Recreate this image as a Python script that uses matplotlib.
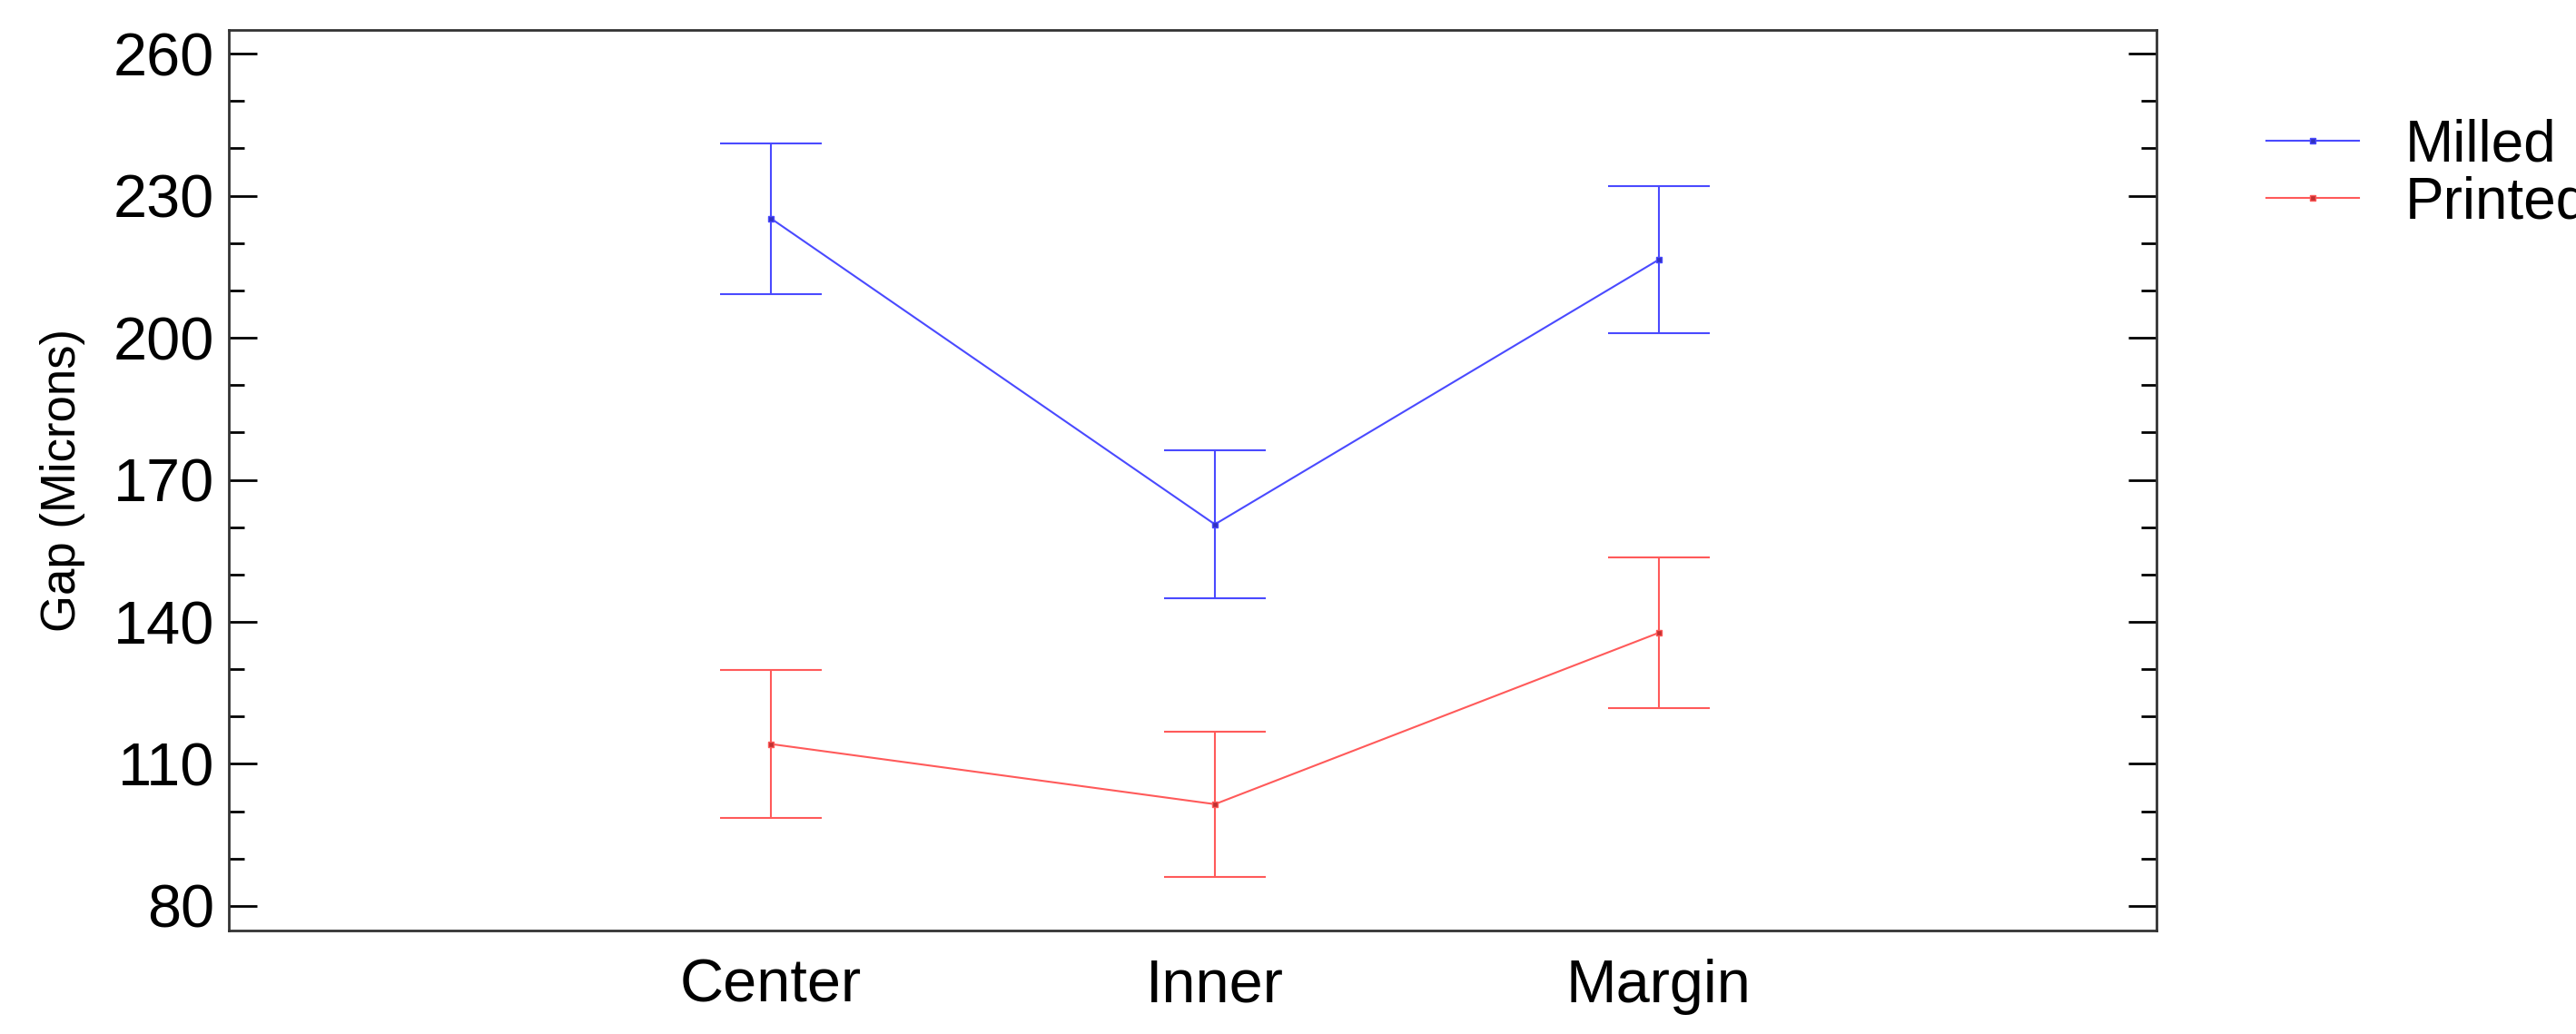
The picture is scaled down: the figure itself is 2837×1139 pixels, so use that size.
import matplotlib.pyplot as plt
from matplotlib.lines import Line2D

plt.rcParams['font.family'] = ['Liberation Sans', 'DejaVu Sans']

locations = ['Center', 'Inner', 'Margin']
milled = [225.2, 160.6, 216.5]
milled_err = [15.9, 15.6, 15.5]
printed = [114.2, 101.5, 137.7]
printed_err = [15.6, 15.4, 15.9]
yticks = [80, 110, 140, 170, 200, 230, 260]
yminor = [90, 100, 120, 130, 150, 160, 180, 190, 210, 220, 240, 250]

blue = '#4a4aff'
red = '#ff5a5a'

fig = plt.figure(figsize=(28.37, 11.39), dpi=100)
ax = fig.add_axes([0.089, 0.100, 0.748, 0.871])

x = range(len(locations))
ax.errorbar(x, milled, yerr=milled_err, color=blue, lw=1.5, elinewidth=1.5,
            capsize=40, capthick=1.5, marker='s', ms=4, mfc='#3030c0')
ax.errorbar(x, printed, yerr=printed_err, color=red, lw=1.5, elinewidth=1.5,
            capsize=40, capthick=1.5, marker='s', ms=4, mfc='#c03030')

ax.set_xlim(-1.22, 3.12)
ax.set_ylim(74.8, 265)
ax.set_xticks(list(x))
ax.set_xticklabels(locations)
ax.set_yticks(yticks)
ax.set_yticks(yminor, minor=True)
ax.tick_params(axis='y', which='major', direction='in', length=22, width=2,
               right=True, labelsize=48, pad=12)
ax.tick_params(axis='y', which='minor', direction='in', length=12, width=2, right=True)
ax.tick_params(axis='x', length=0, labelsize=48, pad=22)
for s in ax.spines.values():
    s.set_linewidth(2)
    s.set_color('#333333')
ax.set_ylabel('Gap (Microns)', fontsize=38, labelpad=22)

handles = [Line2D([], [], color=blue, lw=1.5, marker='s', ms=5, mfc='#3030c0'),
           Line2D([], [], color=red, lw=1.5, marker='s', ms=5, mfc='#c03030')]
ax.legend(handles, ['Milled', 'Printed'], loc='upper left', bbox_to_anchor=(1.03, 0.96),
          frameon=False, fontsize=46, handlelength=1.6, labelspacing=0.05)

fig.savefig('out.png')
